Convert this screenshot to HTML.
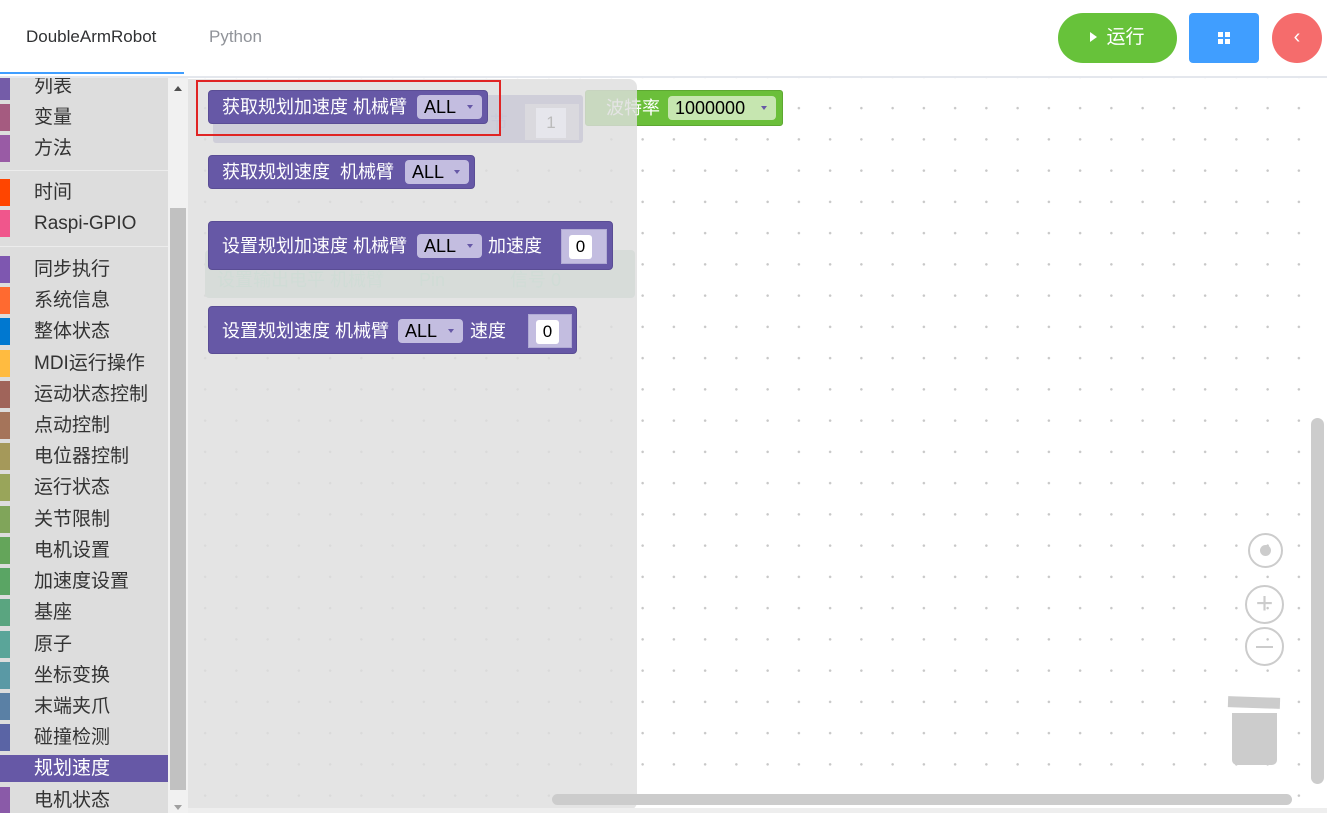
<!DOCTYPE html>
<html><head><meta charset="utf-8"><style>
*{margin:0;padding:0;box-sizing:border-box}
body{width:1327px;height:813px;position:relative;overflow:hidden;background:#fff;font-family:"Liberation Sans","Noto Sans CJK SC",sans-serif}
.a{position:absolute}
.ws{left:188px;top:78px;width:1139px;height:730px;background-image:radial-gradient(circle,#c8c8c8 1.1px,transparent 1.4px);background-size:31.25px 31.25px;background-position:1.5px 14.5px}
.side{left:0;top:78px;width:168px;height:735px;background:#ddd;overflow:hidden}
.it{position:absolute;left:0;width:168px;height:27px;font-size:19px;color:#333;line-height:27px}
.it i{position:absolute;left:0;top:0;width:10px;height:27px}
.it span{position:absolute;left:34px}
.blk{position:absolute;background:#6658a6;border:1px solid #5a4d95;border-radius:4px;color:#fff;font-size:18px}
.t{position:absolute;white-space:nowrap;line-height:20px}
.dd{position:absolute;background:#c3bde0;border-radius:4px;color:#000;font-size:18px;line-height:24px;padding-left:7px}
.dd:after{content:"";position:absolute;right:9px;top:10px;border:3.5px solid transparent;border-top:4px solid #6658a6}
.inp{position:absolute;background:#c3bde0;border:1px solid #b0aad4}
.inp b{position:absolute;background:#fff;border-radius:3px;font-weight:normal;color:#000;font-size:17px;text-align:center;line-height:24px}
</style></head><body>
<!-- header -->
<div class="a" style="left:26px;top:27px;font-size:17px;color:#303133">DoubleArmRobot</div>
<div class="a" style="left:209px;top:27px;font-size:17px;color:#909399">Python</div>
<div class="a" style="left:0;top:72px;width:184px;height:2px;background:#409eff"></div>
<div class="a" style="left:0;top:76px;width:1327px;height:2px;background:#e4e7ed"></div>
<div class="a" style="left:1058px;top:13px;width:119px;height:50px;border-radius:25px;background:#67c23a;color:#fff;font-size:19px;line-height:50px;text-align:center"><span style="display:inline-block;border:5px solid transparent;border-left:7px solid #fff;border-right:0;margin-right:9px;vertical-align:1px"></span>运行</div>
<div class="a" style="left:1189px;top:13px;width:70px;height:50px;border-radius:4px;background:#409eff">
 <div class="a" style="left:29px;top:19px;width:5px;height:5px;background:#fff"></div><div class="a" style="left:36px;top:19px;width:5px;height:5px;background:#fff"></div>
 <div class="a" style="left:29px;top:26px;width:5px;height:5px;background:#fff"></div><div class="a" style="left:36px;top:26px;width:5px;height:5px;background:#fff"></div></div>
<div class="a" style="left:1272px;top:13px;width:50px;height:50px;border-radius:25px;background:#f56c6c;color:#fff;font-size:20px;line-height:48px;text-align:center">‹</div>
<!-- workspace -->
<div class="a ws"></div>
<div class="a" style="left:585px;top:90px;width:198px;height:36px;background:#6bbf3a;border:1px solid #5ea832;border-radius:3px">
 <div class="t" style="left:20px;top:7px;color:#fff;font-size:18px">波特率</div>
 <div class="dd" style="left:82px;top:5px;width:108px;background:#c6e6b0">1000000</div></div>
<div class="a" style="left:213px;top:95px;width:370px;height:48px;background:#8a84c0;border-radius:3px"><div class="a" style="left:312px;top:9px;width:54px;height:36px;background:#c5c3dd"></div></div>
<div class="a" style="left:205px;top:250px;width:430px;height:48px;background:#b6d0c2;border-radius:4px"></div>
<!-- flyout -->
<div class="a" style="left:188px;top:79px;width:449px;height:731px;background:rgba(222,222,222,0.82);border-radius:0 8px 8px 0"></div>
<!-- ghost labels -->
<div class="a" style="left:217px;top:266px;font-size:18px;color:#d0dcd6">设置输出电平 机械臂 <span style="margin-left:30px">Pin</span> <span style="margin-left:60px">信号 0</span></div>
<div class="a" style="left:536px;top:108px;width:30px;height:30px;background:#e6e6ec;color:#bbb;font-size:17px;text-align:center;line-height:30px">1</div>
<div class="a" style="left:490px;top:109px;font-size:18px;color:#c9c9d8">节</div>
<!-- blocks -->
<div class="blk" style="left:208px;top:90px;width:280px;height:34px"><div class="t" style="left:13px;top:6px">获取规划加速度 机械臂</div><div class="dd" style="left:208px;top:4px;width:65px">ALL</div></div>
<div class="blk" style="left:208px;top:155px;width:267px;height:34px"><div class="t" style="left:13px;top:6px">获取规划速度&nbsp; 机械臂</div><div class="dd" style="left:196px;top:4px;width:64px">ALL</div></div>
<div class="blk" style="left:208px;top:221px;width:405px;height:49px"><div class="t" style="left:13px;top:14px">设置规划加速度 机械臂</div><div class="dd" style="left:208px;top:12px;width:65px">ALL</div><div class="t" style="left:279px;top:14px">加速度</div><div class="inp" style="left:352px;top:7px;width:46px;height:35px"><b style="left:7px;top:5px;width:23px">0</b></div></div>
<div class="blk" style="left:208px;top:306px;width:369px;height:48px"><div class="t" style="left:13px;top:14px">设置规划速度 机械臂</div><div class="dd" style="left:189px;top:12px;width:65px">ALL</div><div class="t" style="left:261px;top:14px">速度</div><div class="inp" style="left:319px;top:7px;width:44px;height:34px"><b style="left:7px;top:5px;width:23px">0</b></div></div>
<div class="a" style="left:196px;top:80px;width:305px;height:56px;border:2px solid #e02424"></div>
<!-- right controls -->
<div class="a" style="left:1248px;top:533px;width:35px;height:35px;border:2px solid #ccc;border-radius:50%"><div class="a" style="left:10px;top:10px;width:11px;height:11px;background:#ccc;border-radius:50%"></div></div>
<div class="a" style="left:1245px;top:585px;width:39px;height:39px;border:2px solid #ccc;border-radius:50%;color:#ccc;font-size:30px;line-height:33px;text-align:center">+</div>
<div class="a" style="left:1245px;top:627px;width:39px;height:39px;border:2px solid #ccc;border-radius:50%"><div class="a" style="left:9px;top:17px;width:17px;height:2px;background:#ccc"></div></div>
<div class="a" style="left:1228px;top:697px;width:52px;height:11px;background:#ccc;transform:rotate(2deg)"></div>
<div class="a" style="left:1232px;top:713px;width:45px;height:52px;background:#ccc;border-radius:0 0 5px 5px"></div>
<div class="a" style="left:1311px;top:418px;width:13px;height:366px;background:#ccc;border-radius:7px"></div>
<div class="a" style="left:552px;top:794px;width:740px;height:11px;background:#ccc;border-radius:6px"></div>
<div class="a" style="left:0;top:808px;width:1327px;height:5px;background:#eee"></div>
<!-- sidebar -->
<div class="a side">
<div class="it" style="top:-5px"><i style="background:#745ca8"></i><span>列表</span></div>
<div class="it" style="top:26px"><i style="background:#a55b80"></i><span>变量</span></div>
<div class="it" style="top:57px"><i style="background:#995ba5"></i><span>方法</span></div>
<div class="a" style="left:0;top:92px;width:168px;height:1px;background:#ececec"></div>
<div class="it" style="top:101px"><i style="background:#ff4500"></i><span>时间</span></div>
<div class="it" style="top:132px"><i style="background:#f0568c"></i><span>Raspi-GPIO</span></div>
<div class="a" style="left:0;top:168px;width:168px;height:1px;background:#ececec"></div>
<div class="it" style="top:178px"><i style="background:#7e57b0"></i><span>同步执行</span></div>
<div class="it" style="top:209px"><i style="background:#ff6a30"></i><span>系统信息</span></div>
<div class="it" style="top:240px"><i style="background:#0078d0"></i><span>整体状态</span></div>
<div class="it" style="top:272px"><i style="background:#ffbb40"></i><span>MDI运行操作</span></div>
<div class="it" style="top:303px"><i style="background:#a0645a"></i><span>运动状态控制</span></div>
<div class="it" style="top:334px"><i style="background:#a5745a"></i><span>点动控制</span></div>
<div class="it" style="top:365px"><i style="background:#a5995a"></i><span>电位器控制</span></div>
<div class="it" style="top:396px"><i style="background:#99a55a"></i><span>运行状态</span></div>
<div class="it" style="top:428px"><i style="background:#80a55a"></i><span>关节限制</span></div>
<div class="it" style="top:459px"><i style="background:#64a55a"></i><span>电机设置</span></div>
<div class="it" style="top:490px"><i style="background:#5aa564"></i><span>加速度设置</span></div>
<div class="it" style="top:521px"><i style="background:#5aa580"></i><span>基座</span></div>
<div class="it" style="top:553px"><i style="background:#5aa599"></i><span>原子</span></div>
<div class="it" style="top:584px"><i style="background:#5a99a5"></i><span>坐标变换</span></div>
<div class="it" style="top:615px"><i style="background:#5a80a5"></i><span>末端夹爪</span></div>
<div class="it" style="top:646px"><i style="background:#5a64a5"></i><span>碰撞检测</span></div>
<div class="it" style="top:677px;background:#6658a6;color:#fff"><i style="background:#6658a6"></i><span>规划速度</span></div>
<div class="it" style="top:709px"><i style="background:#8a5aa8"></i><span>电机状态</span></div>
</div>
<div class="a" style="left:168px;top:78px;width:20px;height:735px;background:#f1f1f1"></div>
<div class="a" style="left:170px;top:208px;width:16px;height:582px;background:#c1c1c1"></div>
<div class="a" style="left:174px;top:86px;border:4px solid transparent;border-bottom:5px solid #505050;border-top:0"></div>
<div class="a" style="left:174px;top:805px;border:4px solid transparent;border-top:5px solid #a0a0a0;border-bottom:0"></div>
</body></html>
